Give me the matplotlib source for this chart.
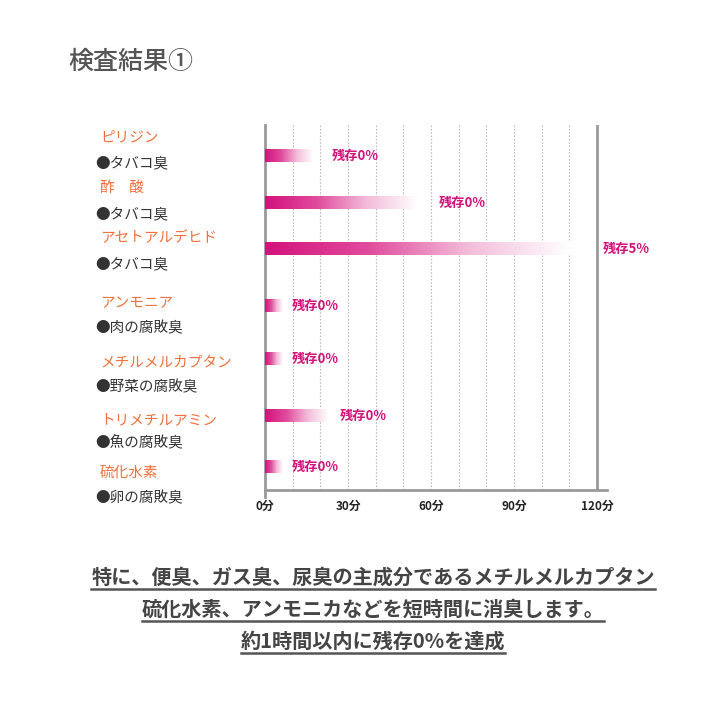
import matplotlib
matplotlib.use("Agg")
import matplotlib.pyplot as plt
import numpy as np
from matplotlib.colors import LinearSegmentedColormap
from matplotlib.lines import Line2D

plt.rcParams['font.family'] = ['Noto Sans CJK JP', 'DejaVu Sans']

# data
compounds = ["ピリジン", "酢　酸", "アセトアルデヒド", "アンモニア",
             "メチルメルカプタン", "トリメチルアミン", "硫化水素"]
odors = ["●タバコ臭", "●タバコ臭", "●タバコ臭", "●肉の腐敗臭",
         "●野菜の腐敗臭", "●魚の腐敗臭", "●卵の腐敗臭"]
minutes = [17, 55, 110, 6.5, 6.5, 23, 6.5]
residual = ["残存0%", "残存0%", "残存5%", "残存0%", "残存0%", "残存0%", "残存0%"]
ticks = [0, 30, 60, 90, 120]
tick_labels = ["0分", "30分", "60分", "90分", "120分"]

# layout (pixel rows of the original, uneven spacing)
row_px = [156, 203, 249, 306, 359, 416, 467]
name_px = [137, 188, 238, 303, 363, 420, 473]
odor_px = [163, 214, 264, 328, 387, 443, 498]
label_x = [24, 63, 122, 9.8, 9.8, 27, 9.8]

fig = plt.figure(figsize=(7.1, 7.1), dpi=100)
fig.patch.set_facecolor("white")

W = 710.0
left = 265 / W
x_max = 123.6
width = (597 - 265) / 120 * x_max / W
bottom = 1 - 490 / W
height = (490 - 125) / W
ax = fig.add_axes([left, bottom, width, height])

pink = LinearSegmentedColormap.from_list("pk", ["#d4127c", "#e04a9c", "#f3bcd9", "#ffffff"])
grad = np.linspace(0, 1, 256).reshape(1, -1)
bh = 13
for y, m, lx, lab in zip(row_px, minutes, label_x, residual):
    ax.imshow(grad, extent=[0, m, y + bh / 2, y - bh / 2], cmap=pink,
              aspect="auto", interpolation="bilinear", zorder=3)
    ax.text(lx, y, lab, color="#d4127c", fontsize=9.5, fontweight="bold",
            va="center", ha="left", zorder=4, clip_on=False)

for g in range(10, 120, 10):
    ax.axvline(g, color="#bbbbbb", lw=0.8, ls=(0, (1.5, 1.5)), zorder=1)
ax.axvline(120, color="#999999", lw=2, zorder=2)

ax.set_xlim(0, x_max)
ax.set_ylim(490, 125)
ax.set_xticks(ticks)
ax.set_xticklabels(tick_labels, fontsize=8.5, fontweight="bold", color="#222222")
ax.tick_params(axis="x", length=0, pad=7)
ax.set_yticks([])
for s in ["top", "right"]:
    ax.spines[s].set_visible(False)
for s in ["left", "bottom"]:
    ax.spines[s].set_color("#999999")
    ax.spines[s].set_linewidth(2)
ax.spines["left"].set_bounds(497, 125)

# left side labels
for c, o, ny, oy in zip(compounds, odors, name_px, odor_px):
    fig.text(100 / W, 1 - ny / W, c, color="#f0703a",
             fontsize=10.5, va="center", ha="left")
    fig.text(95 / W, 1 - oy / W, o, color="#333333",
             fontsize=10.5, va="center", ha="left")

# title
fig.text(68 / W, 1 - 62 / W, "検査結果①", fontsize=18, fontweight="medium",
         color="#555555", va="center", ha="left")

# bottom notes with underline
notes = ["特に、便臭、ガス臭、尿臭の主成分であるメチルメルカプタン",
         "硫化水素、アンモニカなどを短時間に消臭します。",
         "約1時間以内に残存0%を達成"]
fig.canvas.draw()
r = fig.canvas.get_renderer()
for k, line in enumerate(notes):
    y = 1 - (577 + 32 * k) / W
    t = fig.text(373 / W, y, line, fontsize=14.5, fontweight="bold",
                 color="#444444", ha="center", va="center")
    bb = t.get_window_extent(renderer=r).transformed(fig.transFigure.inverted())
    fig.add_artist(Line2D([bb.x0, bb.x1], [bb.y0 - 0.002, bb.y0 - 0.002],
                          transform=fig.transFigure, color="#555555", lw=1.8))

fig.savefig("out.png", dpi=100, facecolor="white")
